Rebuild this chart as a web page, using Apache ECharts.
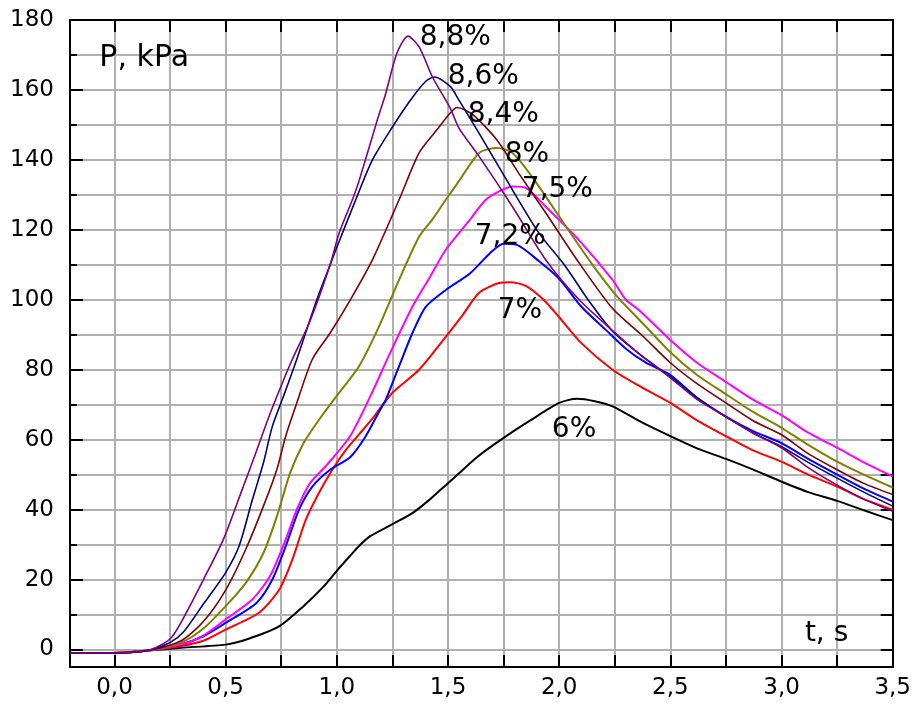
<!DOCTYPE html>
<html>
<head>
<meta charset="utf-8">
<script src="https://cdn.jsdelivr.net/npm/echarts@6/dist/echarts.min.js"></script>
<style>
  html, body { margin: 0; padding: 0; background: #fff; }
  #chart { width: 914px; height: 711px; }
</style>
</head>
<body>
<div id="chart"></div>
<script>
// P(t) curves, [t s, P kPa]
var p6 = [[-0.2,-1],[0,-1],[0.15,-0.3],[0.3,0.5],[0.5,1.4],[0.6,3],[0.74,6.6],[0.85,12.4],[0.94,18],[1.0,22.5],[1.06,26.8],[1.1,29.6],[1.15,32.4],[1.24,35.5],[1.34,39],[1.42,43],[1.49,47],[1.56,51],[1.63,55],[1.75,60.5],[1.87,65.5],[2.0,70.5],[2.08,71.7],[2.16,71],[2.24,69.5],[2.37,65],[2.5,61],[2.62,57.5],[2.75,54.5],[2.87,51.5],[3.0,48],[3.12,45],[3.25,42.5],[3.37,39.8],[3.5,37]];
var p7 = [[-0.2,-1],[0,-1],[0.15,-0.3],[0.3,1],[0.4,2.5],[0.5,5.7],[0.65,10.5],[0.74,17],[0.8,25.7],[0.86,37],[0.92,44.8],[0.98,51.4],[1.04,57],[1.1,61.5],[1.16,66],[1.25,73.4],[1.37,80],[1.48,88.6],[1.57,96],[1.64,102],[1.73,104.8],[1.78,105],[1.85,104],[1.93,100],[2.0,95],[2.1,87.6],[2.24,80],[2.37,75],[2.5,70.5],[2.62,65.5],[2.75,61],[2.87,57],[3.0,53.7],[3.12,50],[3.25,46.6],[3.37,43],[3.5,40]];
var p72 = [[-0.2,-1],[0,-1],[0.15,-0.3],[0.3,1.5],[0.4,3.8],[0.5,7.6],[0.64,13.4],[0.71,20],[0.77,29.5],[0.83,40],[0.89,46.6],[0.97,51.4],[1.06,55],[1.13,61],[1.19,68],[1.22,71.4],[1.28,81],[1.34,90.5],[1.4,98],[1.49,102.8],[1.6,107.6],[1.69,113.4],[1.75,116],[1.81,115.7],[1.91,111],[2.0,106],[2.1,98],[2.21,91.4],[2.3,86],[2.39,82],[2.5,78.5],[2.62,72],[2.75,66.6],[2.87,62.5],[3.0,59],[3.12,54.5],[3.25,50],[3.37,46],[3.5,42.3]];
var p75 = [[-0.2,-1],[0,-1],[0.15,-0.3],[0.3,1.5],[0.4,4],[0.5,8.6],[0.62,14.3],[0.7,21],[0.77,31.4],[0.82,40],[0.88,47.6],[0.95,52.4],[1.06,61],[1.15,72.3],[1.24,84.8],[1.34,98],[1.42,106.6],[1.49,114.3],[1.6,123],[1.67,128.6],[1.73,131],[1.79,132.4],[1.85,132],[1.94,126.6],[2.09,117],[2.24,105.7],[2.3,100],[2.36,97],[2.5,88.5],[2.62,82],[2.75,76.5],[2.87,71.5],[3.0,67],[3.12,62],[3.25,57.7],[3.37,53.5],[3.5,49.5]];
var p8 = [[-0.2,-1],[0,-1],[0.15,-0.3],[0.3,2],[0.4,6],[0.5,12.4],[0.59,19],[0.67,27.6],[0.73,38],[0.79,50.5],[0.85,59],[0.92,65.7],[1.01,73.4],[1.1,81],[1.19,92.4],[1.28,105.7],[1.37,118],[1.43,123],[1.49,128.6],[1.55,134],[1.64,142],[1.72,143.4],[1.79,142],[1.88,135],[2.03,121],[2.15,110],[2.26,101],[2.38,93],[2.5,85],[2.62,78.5],[2.75,73],[2.87,68],[3.0,63.4],[3.12,58.5],[3.25,53.7],[3.37,50],[3.5,46.3]];
var p84 = [[-0.2,-1],[0,-1],[0.15,-0.3],[0.3,2.5],[0.4,8],[0.5,17],[0.59,28.6],[0.67,41],[0.73,51.4],[0.77,61],[0.82,70.5],[0.89,83],[0.97,90.5],[1.07,101],[1.16,111.4],[1.28,128.6],[1.37,142],[1.45,148.6],[1.51,153.4],[1.54,155],[1.61,153],[1.72,145.7],[1.82,136],[1.94,124.8],[2.09,110.5],[2.24,97.5],[2.37,90],[2.5,82],[2.62,76],[2.75,70.5],[2.87,65.5],[3.0,61.4],[3.12,56],[3.25,51.4],[3.37,47.5],[3.5,44.3]];
var p86 = [[-0.2,-1],[0,-1],[0.15,-0.3],[0.25,2],[0.31,5],[0.4,13],[0.5,22],[0.56,29.5],[0.62,42.8],[0.67,53.4],[0.71,63.8],[0.76,72.4],[0.82,83],[0.91,100],[0.97,110],[1.0,115],[1.09,129.4],[1.16,140],[1.25,149.4],[1.33,157],[1.4,162.5],[1.44,163.7],[1.51,161],[1.55,157],[1.64,147.6],[1.79,131.4],[1.91,119],[2.03,109.4],[2.13,100],[2.24,91],[2.37,84],[2.5,78],[2.62,72],[2.75,66.5],[2.87,62],[3.0,58],[3.12,53.5],[3.25,49],[3.37,45],[3.5,41]];
var p88 = [[-0.2,-1],[0,-1],[0.15,-0.3],[0.25,3],[0.31,9],[0.4,20],[0.49,31.5],[0.57,45],[0.64,57],[0.7,67.5],[0.76,77],[0.8,83],[0.88,94],[0.97,110],[1.01,119],[1.07,128.6],[1.1,134],[1.18,151],[1.22,159],[1.27,170.5],[1.32,175.4],[1.37,172.3],[1.43,163.7],[1.51,154.8],[1.55,149],[1.64,141],[1.79,126.6],[1.94,111.4],[2.09,100],[2.25,90.6],[2.37,84],[2.5,77.7],[2.62,71.5],[2.75,66.6],[2.87,62],[3.0,57.7],[3.12,52],[3.25,47],[3.37,43],[3.5,39.5]];

var curves = [p6, p7, p72, p75, p8, p84, p86, p88];
var curveNames = ['6%', '7%', '7,2%', '7,5%', '8%', '8,4%', '8,6%', '8,8%'];
var curveColors = ['#000000', '#ff0000', '#0000ff', '#ff00ff', '#808000', '#800000', '#000080', '#800080'];

// text placed in the plot, left edge at [t, P]
var noteText = ['8,8%', '8,6%', '8,4%', '8%', '7,5%', '7,2%', '7%', '6%', 'P, kPa', 't, s'];
var noteT = [1.373, 1.499, 1.589, 1.755, 1.832, 1.62, 1.724, 1.967, -0.068, 3.105];
var noteP = [175, 163.7, 152.9, 141.4, 131.4, 118, 97, 62.9, 169, 4.6];
var noteSize = [28, 28, 28, 28, 28, 28, 28, 28, 30, 28];

var font = '"DejaVu Sans", sans-serif';
var myChart = echarts.init(document.getElementById('chart'));

var black = { color: '#000', width: 2 };
var gray = { color: '#b0b0b0', width: 2 };

var series = curves.map(function (c, i) {
    return {
        name: curveNames[i],
        type: 'line',
        data: c,
        showSymbol: false,
        smooth: 0.25,
        lineStyle: { color: curveColors[i], width: i >= 5 ? 1.6 : 2 },
        z: 3
    };
});

series.push({
    type: 'scatter',
    symbolSize: 0,
    z: 5,
    itemStyle: { opacity: 1 },
    data: noteText.map(function (t, i) {
        return {
            value: [noteT[i], noteP[i]],
            label: { show: true, formatter: t, fontSize: noteSize[i], color: '#000' }
        };
    }),
    label: {
        show: true,
        position: 'right',
        distance: 0,
        color: '#000',
        opacity: 1,
        fontFamily: font
    }
});

var option = {
    animation: false,
    backgroundColor: '#fff',
    grid: { left: 70, right: 21, top: 20, bottom: 44 },
    xAxis: [
        {
            type: 'value', min: -0.2, max: 3.5, splitNumber: 7, position: 'bottom',
            axisLine: { onZero: false, lineStyle: black },
            axisTick: { show: false },
            splitLine: { show: false },
            axisLabel: {
                color: '#000', fontSize: 23, fontFamily: font, margin: 10,
                formatter: function (v) {
                    var r = Math.round(v * 10) / 10;
                    if (r < 0 || Math.abs(r * 2 - Math.round(r * 2)) > 1e-6) return '';
                    return r.toFixed(1).replace('.', ',');
                }
            }
        },
        {
            // quarter-second grid, same scale as axis 0 (value = 2t)
            type: 'value', min: -0.4, max: 7, splitNumber: 15, position: 'bottom',
            axisLine: { show: false, onZero: false },
            axisTick: { inside: true, length: 12, lineStyle: black },
            axisLabel: { show: false },
            splitLine: { show: true, lineStyle: gray }
        },
        {
            type: 'value', min: -0.4, max: 7, splitNumber: 15, position: 'top',
            axisLine: { show: true, onZero: false, lineStyle: black },
            axisTick: { inside: true, length: 12, lineStyle: black },
            axisLabel: { show: false },
            splitLine: { show: false }
        }
    ],
    yAxis: [
        {
            type: 'value', min: -5, max: 180, splitNumber: 9, position: 'left',
            axisLine: { show: true, onZero: false, lineStyle: black },
            axisTick: { show: true, inside: true, length: 13, lineStyle: black },
            splitLine: { show: false },
            axisLabel: {
                color: '#000', fontSize: 23, fontFamily: font, margin: 16,
                formatter: function (v) { return v >= 0 ? String(v) : ''; }
            }
        },
        {
            type: 'value', min: -5, max: 180, splitNumber: 18, position: 'left',
            axisLine: { show: false, onZero: false },
            axisTick: { show: true, inside: true, length: 7, lineStyle: black },
            axisLabel: { show: false },
            splitLine: { show: true, lineStyle: gray }
        },
        {
            type: 'value', min: -5, max: 180, splitNumber: 18, position: 'right',
            axisLine: { show: true, onZero: false, lineStyle: black },
            axisTick: { show: true, inside: true, length: 12, lineStyle: black },
            axisLabel: { show: false },
            splitLine: { show: false }
        }
    ],
    series: series
};

myChart.setOption(option);
</script>
</body>
</html>
